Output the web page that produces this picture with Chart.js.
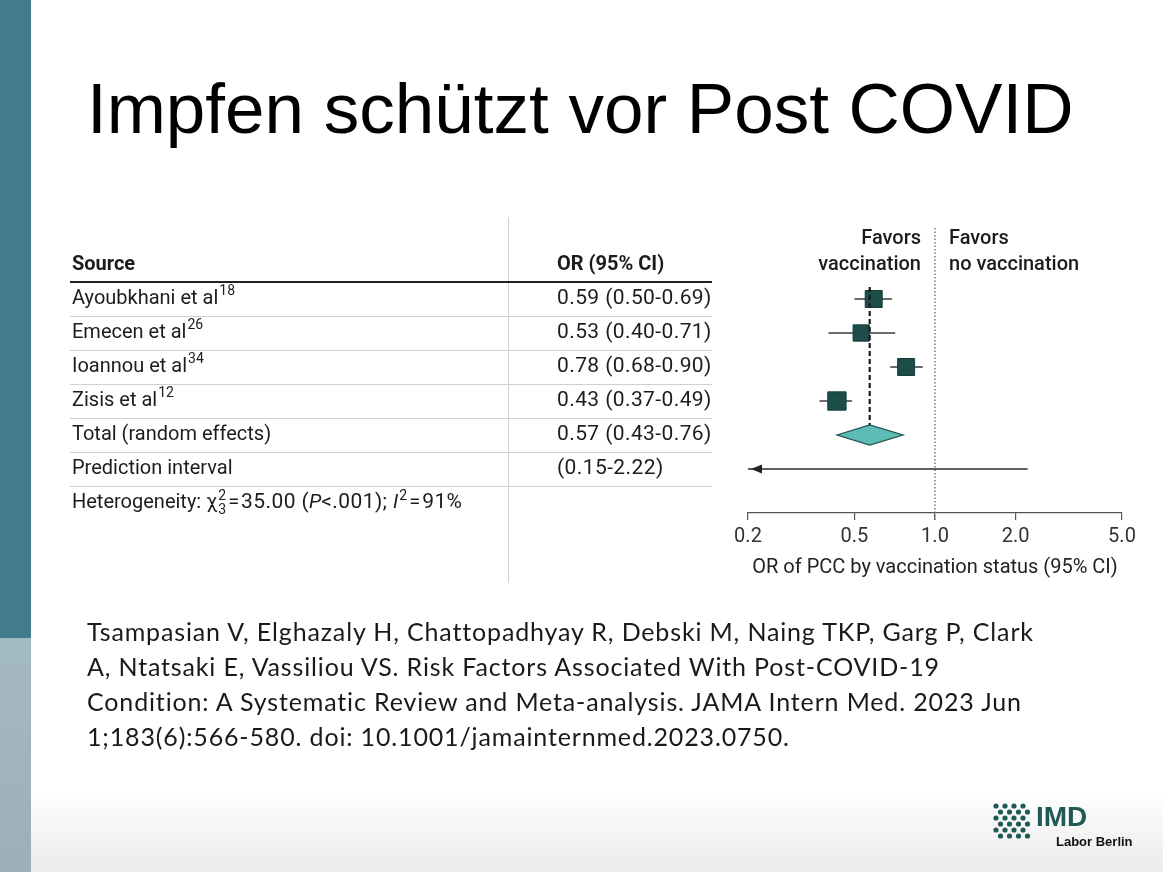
<!DOCTYPE html>
<html lang="de">
<head>
<meta charset="utf-8">
<title>Impfen schützt vor Post COVID</title>
<script src="https://cdn.jsdelivr.net/npm/chart.js@4.4.1/dist/chart.umd.min.js"></script>
<style>
  html, body { margin: 0; padding: 0; }
  body {
    width: 1163px; height: 872px; position: relative; overflow: hidden;
    background: linear-gradient(to bottom, #fff 0, #fff 790px, #ebebeb 872px);
  }
  .bar-top { position: absolute; left: 0; top: 0; width: 31px; height: 638px; background: #427a8e; }
  .bar-bottom { position: absolute; left: 0; top: 638px; width: 31px; height: 234px; background: linear-gradient(#a3b9c4, #9cb0bb); }
  h1 {
    position: absolute; left: 87px; top: 73px; margin: 0;
    font: 400 71px/71px "Liberation Sans", Arial, sans-serif; color: #000; white-space: nowrap;
  }
  #forest { position: absolute; left: 0; top: 0; }
  .citation {
    position: absolute; left: 87px; top: 614px; margin: 0;
    font: 25px/35px Lato, "Open Sans", sans-serif; letter-spacing: 0.85px;
    color: #1a1a1a; white-space: nowrap;
  }
  .logo { position: absolute; left: 990px; top: 800px; width: 150px; height: 52px; }
  .logo .imd { position: absolute; left: 46px; top: 3px; font: 700 28px/28px "Liberation Sans", Arial, sans-serif; color: #1e5955; }
  .logo .labor { position: absolute; left: 66px; top: 35px; font: 700 13px/13px "Liberation Sans", Arial, sans-serif; color: #111; white-space: nowrap; }
</style>
</head>
<body>
<div class="bar-top"></div>
<div class="bar-bottom"></div>
<h1>Impfen schützt vor Post COVID</h1>
<canvas id="forest" width="1163" height="872"></canvas>
<p class="citation">Tsampasian V, Elghazaly H, Chattopadhyay R, Debski M, Naing TKP, Garg P, Clark<br>A, Ntatsaki E, Vassiliou VS. Risk Factors Associated With Post-COVID-19<br>Condition: A Systematic Review and Meta-analysis. JAMA Intern Med. 2023 Jun<br>1;183(6):566-580. doi: 10.1001/jamainternmed.2023.0750.</p>
<div class="logo">
  <svg id="dots" width="44" height="40" style="position:absolute;left:0;top:0"></svg>
  <div class="imd">IMD</div>
  <div class="labor">Labor Berlin</div>
</div>
<script>
  // study data
  const studies = ['Ayoubkhani et al', 'Emecen et al', 'Ioannou et al', 'Zisis et al'];
  const refs = ['18', '26', '34', '12'];
  const orEst = [0.59, 0.53, 0.78, 0.43];
  const ciLow = [0.50, 0.40, 0.68, 0.37];
  const ciHigh = [0.69, 0.71, 0.90, 0.49];
  const weights = [25, 24, 25, 27];
  const pooled = [0.57, 0.43, 0.76];      // estimate, low, high
  const predInterval = [0.15, 2.22];
  const hetChi2 = 35.00, hetDf = 3, hetP = '<.001', hetI2 = 91;
  const xTicks = [0.2, 0.5, 1.0, 2.0, 5.0];

  const pooledRow = studies.length;
  const predRow = studies.length + 1;
  const hetRow = studies.length + 2;
  const ink = '#1c1c1c';
  const tableFont = 'Roboto';

  const fmtCI = (e, l, h) => `${e.toFixed(2)} (${l.toFixed(2)}-${h.toFixed(2)})`;

  // logo dots
  (function() {
    const svg = document.getElementById('dots');
    let html = '';
    for (let r = 0; r < 6; r++) {
      for (let c = 0; c < 4; c++) {
        const cx = 6 + c * 9 + (r % 2 ? 4.5 : 0);
        const cy = 6 + r * 6;
        html += `<circle cx="${cx}" cy="${cy}" r="2.6" fill="#1f5a56"/>`;
      }
    }
    svg.innerHTML = html;
  })();

  function hline(ctx, x1, x2, y) {
    ctx.beginPath(); ctx.moveTo(x1, y); ctx.lineTo(x2, y); ctx.stroke();
  }

  function drawTable(chart) {
    const { ctx, scales: { x, y } } = chart;
    const rowY = v => y.getPixelForValue(v);
    const left = 70, right = 712, splitX = 508.5, col1 = 72, col2 = 557;
    const hasSpacing = 'letterSpacing' in ctx;
    const spacing = s => { if (hasSpacing) ctx.letterSpacing = s; };
    ctx.save();

    ctx.strokeStyle = '#d0d0d0';
    ctx.lineWidth = 1;
    for (let i = 0; i <= predRow; i++) {
      hline(ctx, left, right, Math.round(rowY(i + 0.5)) + 0.5);
    }
    ctx.beginPath(); ctx.moveTo(splitX, 217); ctx.lineTo(splitX, 583); ctx.stroke();

    ctx.strokeStyle = '#222';
    ctx.lineWidth = 2.2;
    hline(ctx, left, right, rowY(-0.5));

    ctx.fillStyle = ink;
    ctx.textBaseline = 'middle';
    ctx.font = `bold 20px ${tableFont}`;
    ctx.fillText('Source', col1, rowY(-1));
    ctx.fillText('OR (95% CI)', col2, rowY(-1));

    // favors header over the plot
    const nx = x.getPixelForValue(1);
    ctx.font = `500 20px ${tableFont}`;
    ctx.textAlign = 'right';
    ctx.fillText('Favors', nx - 14, rowY(-1) - 26);
    ctx.fillText('vaccination', nx - 14, rowY(-1));
    ctx.textAlign = 'left';
    ctx.fillText('Favors', nx + 14, rowY(-1) - 26);
    ctx.fillText('no vaccination', nx + 14, rowY(-1));

    const reg = `20px ${tableFont}`;
    const num = `21px ${tableFont}`;
    const small = `14px ${tableFont}`;
    studies.forEach((s, i) => {
      const yy = rowY(i);
      ctx.font = reg;
      ctx.fillText(s, col1, yy);
      const w = ctx.measureText(s).width;
      ctx.font = small;
      ctx.fillText(refs[i], col1 + w + 1, yy - 7);
      ctx.font = num;
      spacing('0.4px');
      ctx.fillText(fmtCI(orEst[i], ciLow[i], ciHigh[i]), col2, yy);
      spacing('0px');
    });

    ctx.font = reg;
    ctx.fillText('Total (random effects)', col1, rowY(pooledRow));
    ctx.fillText('Prediction interval', col1, rowY(predRow));
    ctx.font = num;
    spacing('0.4px');
    ctx.fillText(fmtCI(pooled[0], pooled[1], pooled[2]), col2, rowY(pooledRow));
    ctx.fillText(`(${predInterval[0].toFixed(2)}-${predInterval[1].toFixed(2)})`, col2, rowY(predRow));
    spacing('0px');

    // heterogeneity line, piece by piece
    const hy = rowY(hetRow);
    let cx = col1;
    const put = (txt, font, dy = 0, ls = '0px') => {
      ctx.font = font;
      spacing(ls);
      ctx.fillText(txt, cx, hy + dy);
      cx += ctx.measureText(txt).width;
      spacing('0px');
    };
    put('Heterogeneity: χ', reg);
    ctx.font = small;
    const scriptX = cx + 1;
    ctx.fillText('2', scriptX, hy - 7);
    ctx.fillText(String(hetDf), scriptX, hy + 7);
    cx = scriptX + ctx.measureText('2').width + 2;
    put('=', reg);
    cx += 2;
    put(`${hetChi2.toFixed(2)} (`, num, 0, '0.4px');
    put('P', `italic 20px ${tableFont}`);
    put(`${hetP}); `, num, 0, '0.4px');
    put('I', `italic 20px ${tableFont}`);
    cx += 1;
    put('2', small, -7);
    cx += 2;
    put('=', reg);
    cx += 2;
    put(`${hetI2}%`, num, 0, '0.4px');

    ctx.restore();
  }

  const forestDecor = {
    id: 'forestDecor',
    beforeDatasetsDraw(chart) {
      const { ctx, chartArea, scales: { x } } = chart;
      const nx = x.getPixelForValue(1);
      ctx.save();
      ctx.strokeStyle = '#666';
      ctx.lineWidth = 1.3;
      ctx.setLineDash([1.5, 2]);
      ctx.beginPath();
      ctx.moveTo(nx, chartArea.top);
      ctx.lineTo(nx, chartArea.bottom + 7);
      ctx.stroke();
      ctx.restore();
    },
    afterDatasetsDraw(chart) {
      const { ctx, chartArea, scales: { x, y } } = chart;
      const py = y.getPixelForValue(pooledRow);
      ctx.save();
      ctx.beginPath();
      ctx.moveTo(x.getPixelForValue(pooled[1]), py);
      ctx.lineTo(x.getPixelForValue(pooled[0]), py - 10);
      ctx.lineTo(x.getPixelForValue(pooled[2]), py);
      ctx.lineTo(x.getPixelForValue(pooled[0]), py + 10);
      ctx.closePath();
      ctx.fillStyle = '#5dbcb6';
      ctx.fill();
      ctx.strokeStyle = '#1f4d4a';
      ctx.lineWidth = 1.2;
      ctx.stroke();

      // arrow: prediction interval runs past the left edge
      if (predInterval[0] < x.min) {
        const ay = y.getPixelForValue(predRow);
        const ax = chartArea.left + 3;
        ctx.beginPath();
        ctx.moveTo(ax, ay);
        ctx.lineTo(ax + 11, ay - 4.5);
        ctx.lineTo(ax + 11, ay + 4.5);
        ctx.closePath();
        ctx.fillStyle = '#222';
        ctx.fill();
      }
      ctx.restore();
    },
    afterDraw(chart) {
      drawTable(chart);
    }
  };

  Chart.defaults.font.family = tableFont;

  const ciSets = studies.map((s, i) => ({
    label: s + ' CI',
    data: [{ x: ciLow[i], y: i }, { x: ciHigh[i], y: i }],
    showLine: true,
    borderColor: '#3a3a3a',
    borderWidth: 1.5,
    pointRadius: 0,
    order: 3
  }));

  new Chart(document.getElementById('forest'), {
    type: 'scatter',
    data: {
      datasets: [
        {
          label: 'Pooled estimate',
          data: [{ x: pooled[0], y: -0.35 }, { x: pooled[0], y: pooledRow - 10 / 34 }],
          showLine: true,
          borderColor: '#1a1a1a',
          borderWidth: 2.2,
          borderDash: [5, 3],
          pointRadius: 0,
          order: 1
        },
        {
          label: 'Studies',
          data: orEst.map((v, i) => ({ x: v, y: i })),
          pointStyle: 'rect',
          pointRadius: weights.map(w => w * 0.48),
          backgroundColor: '#1c4d49',
          borderColor: '#143b38',
          borderWidth: 1,
          order: 2
        },
        ...ciSets,
        {
          label: 'Prediction interval',
          data: [{ x: predInterval[0], y: predRow }, { x: predInterval[1], y: predRow }],
          showLine: true,
          borderColor: '#2a2a2a',
          borderWidth: 1.5,
          pointRadius: 0,
          order: 3
        }
      ]
    },
    options: {
      responsive: false,
      animation: false,
      events: [],
      layout: { padding: { left: 748, right: 41, top: 228, bottom: 284 } },
      plugins: { legend: { display: false }, tooltip: { enabled: false } },
      scales: {
        x: {
          type: 'logarithmic',
          min: xTicks[0],
          max: xTicks[xTicks.length - 1],
          afterBuildTicks: scale => { scale.ticks = xTicks.map(v => ({ value: v })); },
          afterFit: scale => { scale.height = 75; },
          grid: { drawOnChartArea: false, drawTicks: true, tickLength: 7, color: '#555', lineWidth: 1.2 },
          border: { display: true, color: '#555', width: 1.2 },
          ticks: {
            padding: 5,
            color: '#333',
            font: { size: 20 },
            autoSkip: false,
            maxRotation: 0,
            callback: v => Number(v).toFixed(1)
          },
          title: {
            display: true,
            text: 'OR of PCC by vaccination status (95% CI)',
            color: '#222',
            font: { size: 20 },
            padding: { top: 0, bottom: 8 }
          }
        },
        y: {
          type: 'linear',
          display: false,
          reverse: true,
          min: -2.088,
          max: 6.294
        }
      }
    },
    plugins: [forestDecor]
  });
</script>
</body>
</html>
